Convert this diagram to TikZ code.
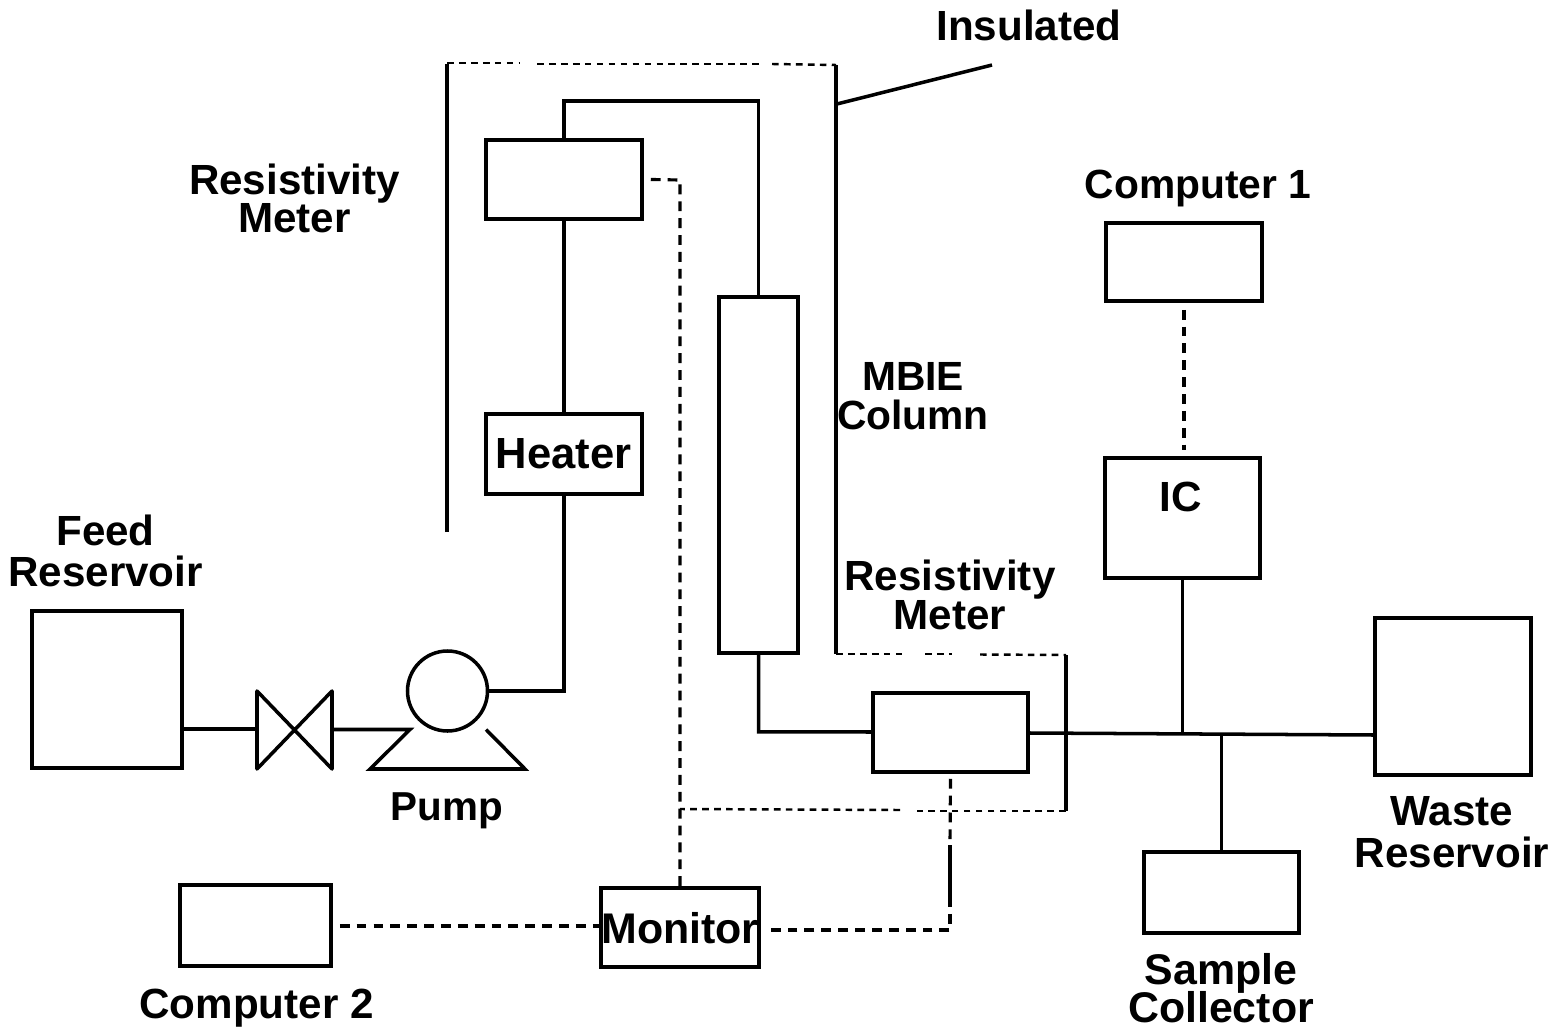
\documentclass[tikz,border=0pt]{standalone}
\usepackage{fontspec}
\setmainfont{Liberation Sans}
\usetikzlibrary{calc}

\begin{document}
\begin{tikzpicture}[
        box/.style={rectangle, draw=black, line width=1pt, inner sep=0pt, align=center},
        lbl/.style={font=\fontsize{12}{12}\selectfont\bfseries, align=center, inner sep=0pt, text=black},
        pipe/.style={line width=1pt},
        sig/.style={line width=0.9pt, dash pattern=on 2.8pt off 2pt},
        dot/.style={line width=0.7pt, dash pattern=on 1.9pt off 1.5pt}
    ]
    \useasboundingbox (0,0) rectangle (15.59,10.30);

    % Boxes
    \node[box, minimum width=1.50cm, minimum height=1.57cm] (feed) at (1.07, 3.405) {};
    \node[box, minimum width=1.56cm, minimum height=0.80cm] (heater) at (5.64, 5.76) {};
    \node[box, minimum width=1.56cm, minimum height=0.79cm] (rm1) at (5.64, 8.505) {};
    \node[box, minimum width=0.79cm, minimum height=3.56cm] (column) at (7.585, 5.55) {};
    \node[box, minimum width=1.55cm, minimum height=0.79cm] (rm2) at (9.505, 2.975) {};
    \node[box, minimum width=1.56cm, minimum height=0.78cm] (comp1) at (11.84, 7.68) {};
    \node[box, minimum width=1.55cm, minimum height=1.20cm] (ic) at (11.825, 5.12) {};
    \node[box, minimum width=1.56cm, minimum height=1.57cm] (waste) at (14.53, 3.335) {};
    \node[box, minimum width=1.55cm, minimum height=0.81cm] (sample) at (12.215, 1.375) {};
    \node[box, minimum width=1.58cm, minimum height=0.79cm] (monitor) at (6.80, 1.025) {};
    \node[box, minimum width=1.51cm, minimum height=0.81cm] (comp2) at (2.555, 1.045) {};

    % Pump and valve
    \node[circle, draw=black, line width=1pt, minimum size=0.80cm, inner sep=0pt] (pump) at (4.475, 3.39) {};
    \coordinate (valvec) at (2.945, 3.01);
    \draw[pipe, line join=round] (2.57, 3.39) -- (3.32, 2.61) -- (3.32, 3.39) -- (2.57, 2.61) -- cycle;

    % Pipes
    \draw[pipe] (feed.east |- valvec) -- (2.57, 3.01);
    \draw[pipe] (3.32, 3.005) -- (4.10, 3.005) -- (3.70, 2.61) -- (5.25, 2.61) -- (4.86, 3.005);
    \draw[pipe] (pump.east) -- (heater.south |- pump.east) -- (heater.south);
    \draw[pipe] (heater.north) -- (rm1.south);
    \draw[pipe] (rm1.north) -- ++(0,0.37) -| (7.585, 7.33);
    \draw[pipe] (column.south) -- ++(0,-0.77) -- (rm2.west |- 0,2.98);
    \draw[pipe] (rm2.east |- 0,2.97) -- (waste.west |- 0,2.95);
    \draw[pipe] (ic.south) -- (11.825, 2.96);
    \draw[pipe] (sample.north) -- (12.215, 2.96);

    % Insulation
    \draw[pipe] (4.47, 4.98) -- (4.47, 9.66);
    \draw[dot] (4.47, 9.67) -- (5.20, 9.67);
    \draw[dot] (5.37, 9.66) -- (7.60, 9.66);
    \draw[dot] (7.72, 9.66) -- (8.36, 9.65);
    \draw[pipe] (8.36, 9.65) -- (8.36, 3.76);
    \draw[dot] (8.36, 3.76) -- (9.05, 3.76);
    \draw[dot] (9.25, 3.76) -- (9.52, 3.76);
    \draw[dot] (9.80, 3.755) -- (10.66, 3.75);
    \draw[pipe] (10.66, 3.75) -- (10.66, 2.19);
    \draw[dot] (10.66, 2.19) -- (9.17, 2.19);
    \draw[dot] (9.00, 2.20) -- (6.80, 2.21);
    \draw[pipe] (8.37, 9.26) -- (9.92, 9.65);

    % Signals
    \draw[sig] ([xshift=0.07cm]rm1.east) -- (6.80, 8.50) -- (monitor.north);
    \draw[sig] ([yshift=-0.05cm]rm2.south) -- (9.50, 1.85);
    \draw[pipe] (9.50, 1.85) -- (9.50, 1.33);
    \draw[sig] (9.50, 1.33) -- (9.50, 1.00) -- ([xshift=0.07cm]monitor.east |- 0,1.00);
    \draw[sig] ([xshift=0.07cm]comp2.east |- 0,1.04) -- (monitor.west |- 0,1.04);
    \draw[sig] ([yshift=-0.07cm]comp1.south) -- ([yshift=0.06cm]ic.north -| comp1.south);

    % Labels
    \node[lbl] (linsul) at (10.29, 10.05) {Insulated};
    \node[lbl] (lrm1) at (2.945, 8.315) {Resistivity\\[-1.1pt]Meter};
    \node[lbl, font=\fontsize{11.6}{12}\selectfont\bfseries] (lcomp1) at (11.98, 8.42) {Computer 1};
    \node[lbl, font=\fontsize{11.6}{12}\selectfont\bfseries] (lmbie) at (9.13, 6.34) {MBIE\\[-1pt]Column};
    \node[lbl, font=\fontsize{12.4}{13}\selectfont\bfseries] (lheater) at (5.635, 5.76) {Heater};
    \node[lbl] (lic) at (11.81, 5.33) {IC};
    \node[lbl] (lfeed) at (1.055, 4.79) {Feed\\[-0.2pt]Reservoir};
    \node[lbl] (lrm2) at (9.50, 4.35) {Resistivity\\[-1.1pt]Meter};
    \node[lbl, font=\fontsize{11.5}{12}\selectfont\bfseries] (lpump) at (4.47, 2.19) {Pump};
    \node[lbl] (lwaste) at (14.52, 1.98) {Waste\\[-0.2pt]Reservoir};
    \node[lbl, font=\fontsize{12.2}{12}\selectfont\bfseries] (lmon) at (6.80, 1.02) {Monitor};
    \node[lbl] (lcomp2) at (2.565, 0.22) {Computer 2};
    \node[lbl, font=\fontsize{12.2}{12}\selectfont\bfseries] (lsample) at (12.21, 0.42) {Sample\\[-1.2pt]Collector};
\end{tikzpicture}
\end{document}
